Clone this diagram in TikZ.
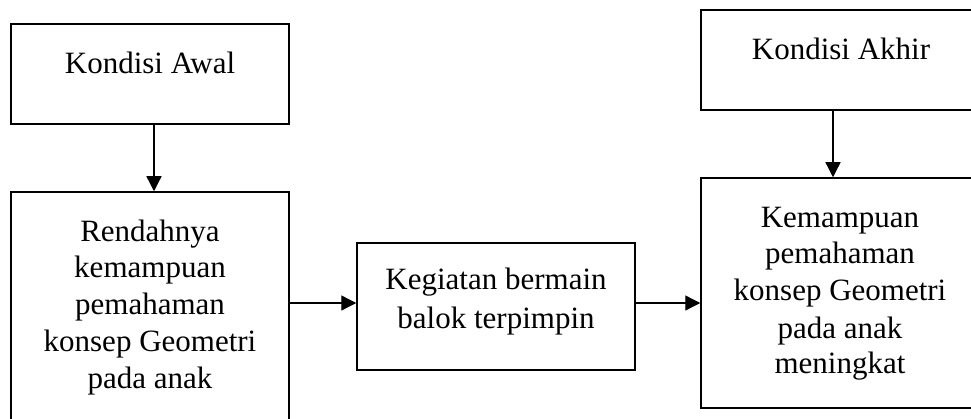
\documentclass[tikz,border=0pt]{standalone}
\usepackage{fontspec}
\setmainfont{Liberation Serif}
\usetikzlibrary{arrows.meta}
\begin{document}
\begin{tikzpicture}[x=1pt,y=-1pt,
  box/.style={draw=black, line width=1.5pt, rectangle, inner sep=0pt, fill=none},
  arr/.style={draw=black, line width=1.3pt, -{Triangle[length=15pt,width=15pt]}},
  txt/.style={anchor=base, inner sep=0pt, font=\fontsize{31}{36}\selectfont}]
\useasboundingbox (0,0) rectangle (971,419);
\fill[white] (0,0) rectangle (971,419);
\clip (0,0) rectangle (971,419);
% boxes
\node[box, minimum width=278pt, minimum height=100pt] (b1) at (150,74) {};
\node[box, minimum width=278pt, minimum height=238pt] (b2) at (150,311) {};
\node[box, minimum width=278pt, minimum height=127pt] (b3) at (496,306.5) {};
\node[box, minimum width=279pt, minimum height=100pt] (b4) at (840.5,60) {};
\node[box, minimum width=279pt, minimum height=230pt] (b5) at (840.5,293) {};
% texts
\node[txt] (t1) at (150,74) {Kondisi Awal};
\node[txt] (t2a) at (150,242) {Rendahnya};
\node[txt] (t2b) at (150,278) {kemampuan};
\node[txt] (t2c) at (150,315) {pemahaman};
\node[txt] (t2d) at (150,352) {konsep Geometri};
\node[txt] (t2e) at (150,388) {pada anak};
\node[txt] (t3a) at (496,290) {Kegiatan bermain};
\node[txt] (t3b) at (496,328) {balok terpimpin};
\node[txt] (t4) at (841,60) {Kondisi Akhir};
\node[txt] (t5a) at (840,228) {Kemampuan};
\node[txt] (t5b) at (840,264) {pemahaman};
\node[txt] (t5c) at (840,301) {konsep Geometri};
\node[txt] (t5d) at (840,338) {pada anak};
\node[txt] (t5e) at (840,373) {meningkat};
% connectors
\coordinate (cx1) at (154,0);
\coordinate (cx2) at (833,0);
\coordinate (cy) at (0,303);
\draw[arr] (b1.south -| cx1) -- (b2.north -| cx1);
\draw[arr] (b4.south -| cx2) -- (b5.north -| cx2);
\draw[arr] (b2.east |- cy) -- (b3.west |- cy);
\draw[arr] (b3.east |- cy) -- (b5.west |- cy);
\end{tikzpicture}
\end{document}
